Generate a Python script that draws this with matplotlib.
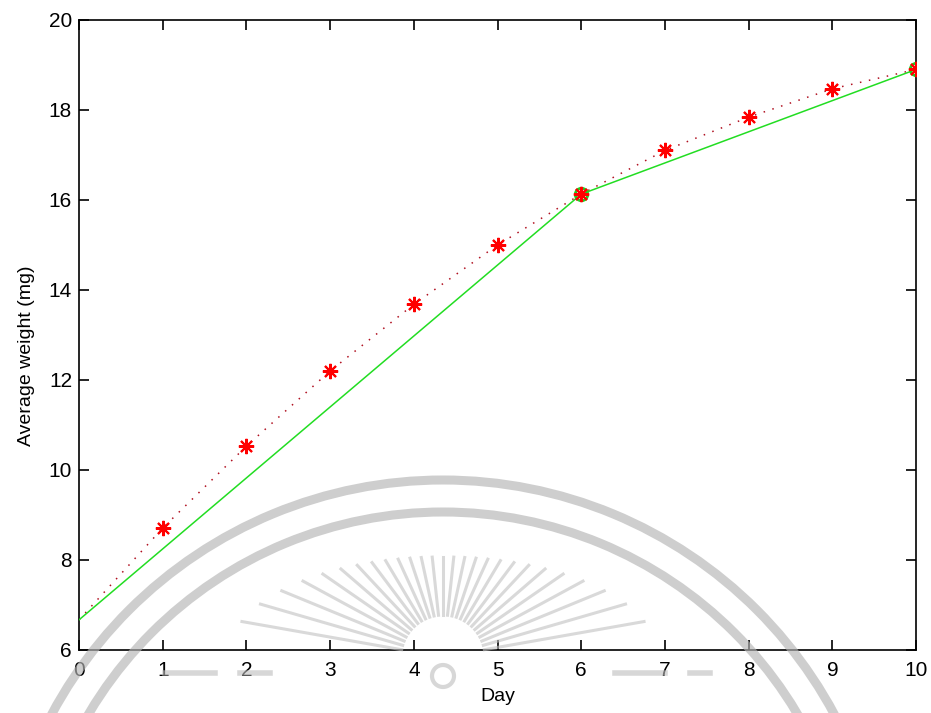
import matplotlib
matplotlib.use("Agg")
import matplotlib.pyplot as plt
import numpy as np
from matplotlib.patches import Arc, Circle

# observed average weights (red stars, dotted)
days = [0, 1, 2, 3, 4, 5, 6, 7, 8, 9, 10]
weight = [6.67, 8.71, 10.53, 12.2, 13.68, 15.0, 16.13, 17.1, 17.84, 18.47, 18.9]

# piecewise model (green line)
model_days = [0, 6, 10]
model_weight = [6.67, 16.13, 18.9]

plt.rcParams['font.family'] = ['Liberation Sans', 'DejaVu Sans']

fig = plt.figure(figsize=(9.31, 7.13), dpi=100)
ax = fig.add_axes([0.0849, 0.0884, 0.8990, 0.8836])

# dotted line first, star markers on top of everything
ax.plot(days, weight, color='#b01020', linestyle=(0, (1, 5)), linewidth=1.1, zorder=2)
ax.plot(model_days, model_weight, color='#22dd22', linewidth=1.1, zorder=3)
ax.plot(model_days[1:], model_weight[1:], linestyle='none', marker='o',
        markersize=9, markerfacecolor='none', markeredgecolor='#22cc22',
        markeredgewidth=2, zorder=4)
ax.plot(days[1:], weight[1:], linestyle='none', color='red',
        marker=(8, 2, 0), markersize=11, markeredgewidth=1.5, zorder=5)

ax.set_xlim(0, 10)
ax.set_ylim(6, 20)
ax.set_xticks(range(0, 11))
ax.set_yticks(range(6, 21, 2))
ax.tick_params(direction='in', length=7, width=1.2, top=True, right=True,
               labelsize=15, pad=5)
ax.tick_params(axis='x', pad=8)
for s in ax.spines.values():
    s.set_linewidth(1.2)
ax.set_xlabel('Day', fontsize=14, labelpad=6)
ax.set_ylabel('Average weight (mg)', fontsize=14)
ax.yaxis.set_label_coords(-0.053, 0.467)

# faint watermark logo over the lower part of the figure
ovl = fig.add_axes([0, 0, 1, 1], facecolor='none')
ovl.set_xlim(0, 931)
ovl.set_ylim(713, 0)
ovl.axis('off')
for r in (444, 412):
    ovl.add_patch(Arc((443, 924), 2 * r, 2 * r, theta1=0, theta2=360,
                      color='#b4b4b4', alpha=0.65, linewidth=6.5))
cx, cy = 443, 657
for a in np.linspace(10, 170, 27):
    t = np.radians(a)
    r1 = 1.0 / np.sqrt((np.cos(t) / 215) ** 2 + (np.sin(t) / 100) ** 2)
    r0 = 42
    ovl.plot([cx + r0 * np.cos(t), cx + r1 * np.cos(t)],
             [cy - r0 * np.sin(t), cy - r1 * np.sin(t)],
             color='#c0c0c0', alpha=0.6, linewidth=2.2)
ovl.add_patch(Circle((cx, 676), 11, fill=False, edgecolor='#bdbdbd',
                     alpha=0.6, linewidth=3))
for x0, x1 in ((165, 215), (240, 270), (615, 665), (690, 710)):
    ovl.plot([x0, x1], [673, 673], color='#bdbdbd', alpha=0.6, linewidth=4)

fig.savefig('out.png', dpi=100)
